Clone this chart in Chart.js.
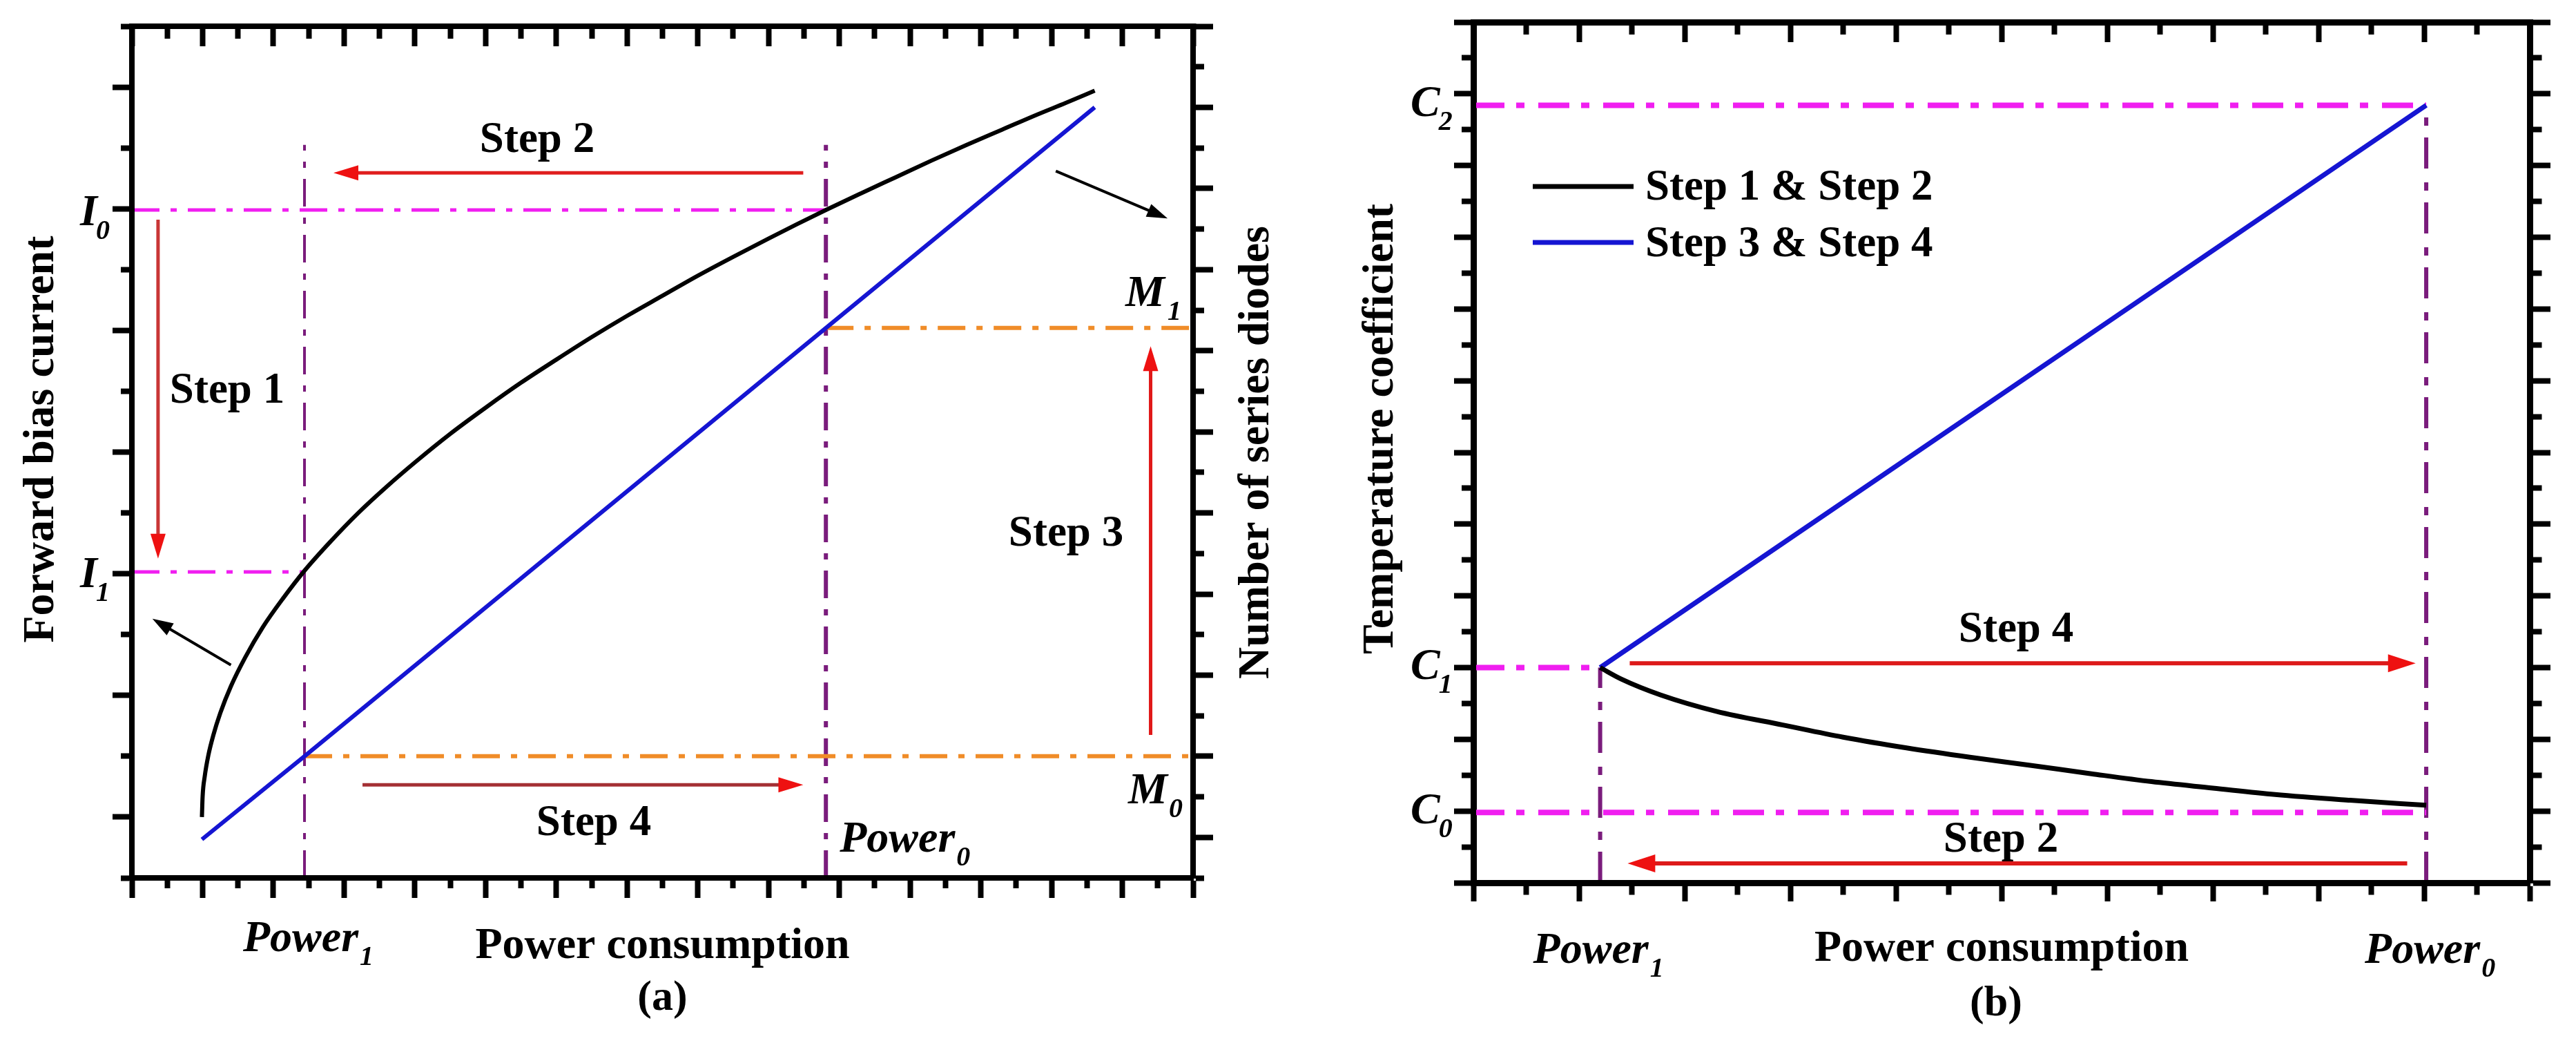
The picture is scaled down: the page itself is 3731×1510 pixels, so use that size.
<!DOCTYPE html>
<html><head><meta charset="utf-8">
<script src="https://cdn.jsdelivr.net/npm/chart.js@4.4.1/dist/chart.umd.min.js"></script>
<style>
html,body{margin:0;padding:0;background:#fff;width:3731px;height:1510px;overflow:hidden}
canvas{position:absolute;top:0}
#ca{left:0}
#cb{left:1866px}
</style></head><body>
<canvas id="ca" width="1866" height="1510"></canvas>
<canvas id="cb" width="1865" height="1510"></canvas>
<script>
// ================= DATA: panel (a) =================
const powerA   = [0.99, 1.0, 1.03, 1.08, 1.15, 1.25, 1.4, 1.6, 1.85, 2.14, 2.44, 2.8, 3.2, 3.6, 4.0, 4.5, 5.0, 5.5, 6.0, 6.5, 7.0, 7.5, 8.0, 8.5, 9.0, 9.4, 9.81, 10.3, 10.8, 11.3, 11.8, 12.3, 12.8, 13.2, 13.61];
const currentA = [1.0, 1.34, 1.67, 2.01, 2.34, 2.71, 3.15, 3.62, 4.12, 4.6, 5.05, 5.52, 6.0, 6.43, 6.83, 7.3, 7.73, 8.14, 8.52, 8.89, 9.24, 9.57, 9.9, 10.21, 10.51, 10.745, 10.98, 11.25, 11.52, 11.79, 12.05, 12.3, 12.55, 12.74, 12.94];
const diodePower = [0.99, 2.44, 9.81, 13.61];
const diodeCount = [0.95, 3.0, 13.56, 19.0];
const power1A = 2.44, power0A = 9.81, guideTopA = 12.05;
const I0 = 10.98, I1 = 5.03, M0 = 3, M1 = 13.56;
const xRangeA = [0, 15], yRangeA = [0, 14], y2RangeA = [0, 21];
const leftLabelsA  = [{v: I0, main: 'I', sub: '0'}, {v: I1, main: 'I', sub: '1'}];
const rightLabelsA = [{v: M1, main: 'M', sub: '1'}, {v: M0, main: 'M', sub: '0'}];

// ================= DATA: panel (b) =================
const powerB      = [1.2, 1.4, 1.77, 2.3, 2.93, 3.5, 4.1, 4.7, 5.26, 5.85, 6.42, 7.0, 7.59, 8.3, 9.02];
const tcoefStep12 = [3.0, 2.84, 2.62, 2.39, 2.20, 2.03, 1.88, 1.75, 1.64, 1.52, 1.41, 1.32, 1.23, 1.15, 1.08];
const powerStep34 = [1.2, 9.02];
const tcoefStep34 = [3.0, 10.84];
const power1B = 1.2, power0B = 9.02;
const C0 = 0.98, C1 = 3.0, C2 = 10.84;
const xRangeB = [0, 10], yRangeB = [0, 12];
const leftLabelsB = [{v: C2, main: 'C', sub: '2'}, {v: C1, main: 'C', sub: '1'}, {v: C0, main: 'C', sub: '0'}];
const legendLabelsB = ['Step 1 & Step 2', 'Step 3 & Step 4'];

// annotation arrows (data units)
const arrowsA = [
  {x1: 9.49, y1: 11.59, x2: 2.85, y2: 11.59, c: '#e01e1e'},
  {x1: 0.37, y1: 10.82, x2: 0.37, y2: 5.25, c: '#c93636'},
  {x1: 14.40, y1: 2.35, x2: 14.40, y2: 8.74, c: '#e01818'},
  {x1: 3.26, y1: 1.53, x2: 9.49, y2: 1.53, c: '#a43034'}
];
const pointersA = [
  {x1: 1.40, y1: 3.50, x2: 0.29, y2: 4.26},
  {x1: 13.06, y1: 11.62, x2: 14.64, y2: 10.84}
];
const arrowsB = [
  {x1: 1.48, y1: 3.06, x2: 8.92, y2: 3.06, c: '#dd1a1a'},
  {x1: 8.84, y1: 0.27, x2: 1.46, y2: 0.27, c: '#dd1a1a'}
];

// ================= helpers =================
const SERIF = '"Liberation Serif", "Times New Roman", serif';
const MAGENTA = '#f01ef0', ORANGE = '#f08c28', PURPLE = '#7a1c7c', BLUE = '#1515d2';
function fnt(size, italic) { return (italic ? 'italic ' : '') + 'bold ' + size + 'px ' + SERIF; }
function isInt(v) { return Math.abs(v - Math.round(v)) < 1e-6; }
function isOdd(v) { return isInt(v) && Math.abs(Math.round(v)) % 2 === 1; }

function makeAxis(o) {
  const L = Math.abs(o.tl), half = o.bw / 2;
  let minorDash;
  if (o.pos === 'left') minorDash = [0, L - o.minorLen, o.minorLen, 400];
  else if (o.pos === 'top') minorDash = [0, L - o.minorLen, o.minorLen + half, 400];
  else minorDash = [Math.max(o.minorLen - half, 1), 400];
  return {
    type: 'linear', position: o.pos, min: o.min, max: o.max, display: true,
    ticks: {display: false, stepSize: o.step, autoSkip: false, maxTicksLimit: 1000},
    border: {display: true, width: o.bw, color: '#000'},
    grid: {display: true, drawOnChartArea: false, drawTicks: true, tickLength: o.tl, tickWidth: 8,
      tickColor: '#000', color: '#000', lineWidth: 1,
      tickBorderDash: (ctx) => (ctx.tick && o.major(ctx.tick.value)) ? [] : minorDash},
    afterFit: (s) => { if (o.pos === 'left' || o.pos === 'right') s.width = o.size; else s.height = o.size; }
  };
}

function line(xs, ys, yAxisID, color, width, dash, smooth) {
  const ds = {
    data: xs.map((x, i) => ({x: x, y: ys[i]})), xAxisID: 'x', yAxisID: yAxisID, showLine: true,
    borderColor: color, backgroundColor: color, borderWidth: width, borderDash: dash || [],
    pointRadius: 0, pointHoverRadius: 0, fill: false, tension: 0, borderCapStyle: 'butt', borderJoinStyle: 'round'
  };
  if (smooth) ds.cubicInterpolationMode = 'monotone'; else ds.clip = -4;
  return ds;
}

function drawText(ctx, s, x, y, size, o) {
  o = o || {};
  ctx.save();
  ctx.font = fnt(size, o.italic);
  ctx.fillStyle = '#000';
  ctx.textAlign = o.align || 'left';
  ctx.textBaseline = o.baseline || 'alphabetic';
  if (o.rotate) { ctx.translate(x, y); ctx.rotate(o.rotate); ctx.fillText(s, 0, 0); }
  else ctx.fillText(s, x, y);
  ctx.restore();
}
function subLabel(ctx, main, sub, x, y, size, subSize, dx) {
  ctx.save();
  ctx.fillStyle = '#000'; ctx.textAlign = 'left'; ctx.textBaseline = 'alphabetic';
  ctx.font = fnt(size, true);
  ctx.fillText(main, x, y);
  const w = ctx.measureText(main).width;
  ctx.font = fnt(subSize, true);
  ctx.fillText(sub, x + w + (dx || 0), y + subSize * 0.5);
  ctx.restore();
}
function arrow(ctx, x1, y1, x2, y2, color, headColor, w, hl, hw) {
  const a = Math.atan2(y2 - y1, x2 - x1), ca = Math.cos(a), sa = Math.sin(a);
  const bx = x2 - hl * ca, by = y2 - hl * sa;
  ctx.save();
  ctx.strokeStyle = color; ctx.lineWidth = w; ctx.lineCap = 'butt';
  ctx.beginPath(); ctx.moveTo(x1, y1); ctx.lineTo(bx + 4 * ca, by + 4 * sa); ctx.stroke();
  ctx.fillStyle = headColor;
  ctx.beginPath(); ctx.moveTo(x2, y2);
  ctx.lineTo(bx - hw * sa, by + hw * ca);
  ctx.lineTo(bx + hw * sa, by - hw * ca);
  ctx.closePath(); ctx.fill();
  ctx.restore();
}

const dashA = [40, 16, 9, 16];
const dashB = [45, 17, 12, 20];
const baseOptions = {
  responsive: false, animation: false, devicePixelRatio: 1, events: [],
  layout: {padding: 0},
  plugins: {legend: {display: false}, tooltip: {enabled: false}, title: {display: false}}
};

// ================= Chart (a) =================
const annA = {
  id: 'annA',
  afterDatasetsDraw(chart) {
    const ctx = chart.ctx, sx = chart.scales.x, sy = chart.scales.y, sy2 = chart.scales.y2;
    arrowsA.forEach(r => arrow(ctx, sx.getPixelForValue(r.x1), sy.getPixelForValue(r.y1),
      sx.getPixelForValue(r.x2), sy.getPixelForValue(r.y2), r.c, '#ee1111', 5, 36, 11));
    pointersA.forEach(r => arrow(ctx, sx.getPixelForValue(r.x1), sy.getPixelForValue(r.y1),
      sx.getPixelForValue(r.x2), sy.getPixelForValue(r.y2), '#000', '#000', 4, 30, 10));
    leftLabelsA.forEach(l => subLabel(ctx, l.main, l.sub, 116, sy.getPixelForValue(l.v) + 22, 64, 40, -2));
    subLabel(ctx, rightLabelsA[0].main, rightLabelsA[0].sub, 1630, sy2.getPixelForValue(rightLabelsA[0].v) - 32, 64, 40, 4);
    subLabel(ctx, rightLabelsA[1].main, rightLabelsA[1].sub, 1634, sy2.getPixelForValue(rightLabelsA[1].v) + 68, 64, 40, 2);
    subLabel(ctx, 'Power', '0', sx.getPixelForValue(power0A) + 20, 1233, 64, 40, 2);
    subLabel(ctx, 'Power', '1', sx.getPixelForValue(power1A) - 89, 1377, 64, 40, 2);
    drawText(ctx, 'Step 1', 329, 583, 63, {align: 'center'});
    drawText(ctx, 'Step 2', 778, 220, 63, {align: 'center'});
    drawText(ctx, 'Step 3', 1544, 790, 63, {align: 'center'});
    drawText(ctx, 'Step 4', 860, 1209, 63, {align: 'center'});
    drawText(ctx, 'Power consumption', (sx.left + sx.right) / 2, 1387, 64, {align: 'center'});
    drawText(ctx, '(a)', (sx.left + sx.right) / 2, 1462, 62, {align: 'center'});
    drawText(ctx, 'Forward bias current', 60, 636, 64, {align: 'center', baseline: 'middle', rotate: -Math.PI / 2});
    drawText(ctx, 'Number of series diodes', 1820, 655, 64, {align: 'center', baseline: 'middle', rotate: -Math.PI / 2});
  }
};

new Chart(document.getElementById('ca'), {
  type: 'scatter',
  data: {datasets: [
    line(powerA, currentA, 'y', '#000', 6, [], true),
    line(diodePower, diodeCount, 'y2', BLUE, 6, []),
    line([xRangeA[0], power0A], [I0, I0], 'y', MAGENTA, 5, dashA),
    line([xRangeA[0], power1A], [I1, I1], 'y', MAGENTA, 5, dashA),
    line([power0A, xRangeA[1]], [M1, M1], 'y2', ORANGE, 6, dashA),
    line([power1A, xRangeA[1]], [M0, M0], 'y2', ORANGE, 6, dashA),
    line([power1A, power1A], [yRangeA[0], guideTopA], 'y', PURPLE, 4, dashA),
    line([power0A, power0A], [yRangeA[0], guideTopA], 'y', PURPLE, 6, dashA)
  ]},
  options: Object.assign({}, baseOptions, {
    scales: {
      x:  makeAxis({pos: 'bottom', min: xRangeA[0], max: xRangeA[1], step: 0.5, major: isInt, tl: 29, minorLen: 15, size: 239, bw: 8}),
      x2: makeAxis({pos: 'top', min: xRangeA[0], max: xRangeA[1], step: 0.5, major: isInt, tl: -29, minorLen: 18, size: 38, bw: 8}),
      y:  makeAxis({pos: 'left', min: yRangeA[0], max: yRangeA[1], step: 1, major: isOdd, tl: 28, minorLen: 16, size: 191, bw: 8}),
      y2: makeAxis({pos: 'right', min: y2RangeA[0], max: y2RangeA[1], step: 1, major: isOdd, tl: 29, minorLen: 16, size: 138, bw: 8})
    }
  }),
  plugins: [annA]
});

// ================= Chart (b) =================
const annB = {
  id: 'annB',
  afterDatasetsDraw(chart) {
    const ctx = chart.ctx, sx = chart.scales.x, sy = chart.scales.y;
    arrowsB.forEach(r => arrow(ctx, sx.getPixelForValue(r.x1), sy.getPixelForValue(r.y1),
      sx.getPixelForValue(r.x2), sy.getPixelForValue(r.y2), r.c, '#ee1111', 6, 40, 13));
    leftLabelsB.forEach(l => subLabel(ctx, l.main, l.sub, 177, sy.getPixelForValue(l.v) + 16, 64, 40, -2));
    subLabel(ctx, 'Power', '1', sx.getPixelForValue(power1B) - 97, 1394, 64, 40, 2);
    subLabel(ctx, 'Power', '0', sx.getPixelForValue(power0B) - 89, 1394, 64, 40, 2);
    drawText(ctx, 'Power consumption', 1033, 1391, 64, {align: 'center'});
    drawText(ctx, '(b)', 1025, 1470, 62, {align: 'center'});
    drawText(ctx, 'Temperature coefficient', 134, 621, 64, {align: 'center', baseline: 'middle', rotate: -Math.PI / 2});
    drawText(ctx, 'Step 4', 1054, 929, 63, {align: 'center'});
    drawText(ctx, 'Step 2', 1032, 1233, 63, {align: 'center'});
    // legend
    const ds = chart.data.datasets;
    [[ds[0].borderColor, 270, legendLabelsB[0], 289], [ds[1].borderColor, 351, legendLabelsB[1], 371]].forEach(l => {
      ctx.save(); ctx.strokeStyle = l[0]; ctx.lineWidth = 7;
      ctx.beginPath(); ctx.moveTo(354, l[1]); ctx.lineTo(500, l[1]); ctx.stroke(); ctx.restore();
      drawText(ctx, l[2], 517, l[3], 63);
    });
  }
};

new Chart(document.getElementById('cb'), {
  type: 'scatter',
  data: {datasets: [
    line(powerB, tcoefStep12, 'y', '#000', 7, [], true),
    line(powerStep34, tcoefStep34, 'y', BLUE, 7, []),
    line([xRangeB[0], power0B], [C2, C2], 'y', MAGENTA, 8, dashB),
    line([xRangeB[0], power1B], [C1, C1], 'y', MAGENTA, 8, dashB),
    line([xRangeB[0], power0B], [C0, C0], 'y', MAGENTA, 8, dashB),
    line([power1B, power1B], [yRangeB[0], C1], 'y', PURPLE, 6, dashB),
    line([power0B, power0B], [yRangeB[0], C2], 'y', PURPLE, 6, dashB)
  ]},
  options: Object.assign({}, baseOptions, {
    scales: {
      x:  makeAxis({pos: 'bottom', min: xRangeB[0], max: xRangeB[1], step: 0.5, major: isInt, tl: 27, minorLen: 17, size: 232, bw: 9}),
      x2: makeAxis({pos: 'top', min: xRangeB[0], max: xRangeB[1], step: 0.5, major: isInt, tl: -29, minorLen: 18, size: 32, bw: 9}),
      y:  makeAxis({pos: 'left', min: yRangeB[0], max: yRangeB[1], step: 0.5, major: isInt, tl: 28, minorLen: 17, size: 268, bw: 9}),
      y2: makeAxis({pos: 'right', min: yRangeB[0], max: yRangeB[1], step: 0.5, major: isInt, tl: 30, minorLen: 17, size: 67, bw: 9})
    }
  }),
  plugins: [annB]
});
</script>
</body></html>
